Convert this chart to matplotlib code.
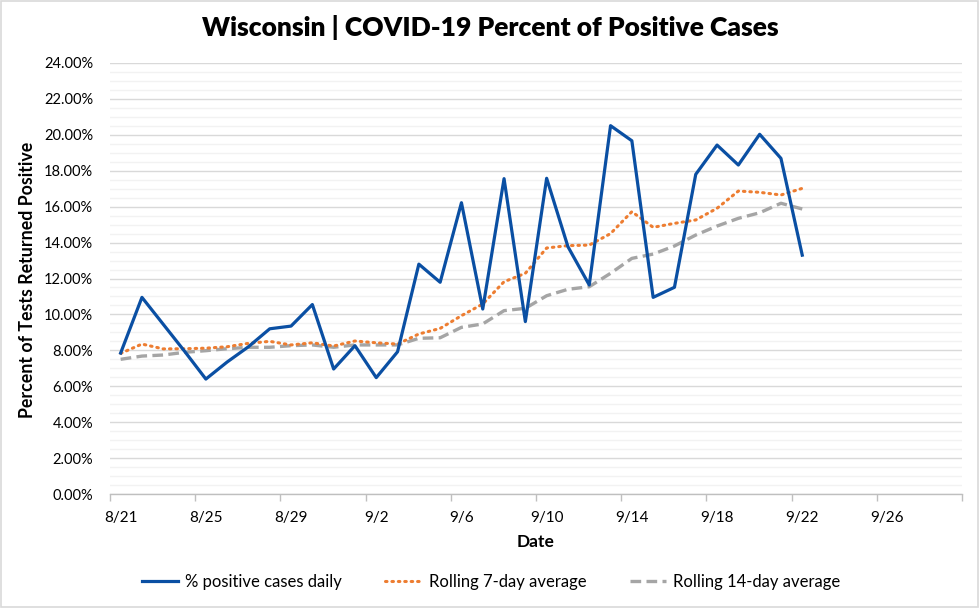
import matplotlib
matplotlib.use("Agg")
import matplotlib.pyplot as plt
import matplotlib.dates as mdates
from matplotlib.ticker import FixedLocator, MultipleLocator, FuncFormatter
from matplotlib.patches import Rectangle
import pandas as pd
import numpy as np

dates = pd.date_range("2020-08-21", "2020-09-22", freq="D")
daily = [7.85, 10.95, 9.45, 7.95, 6.40, 7.35, 8.20, 9.20, 9.35, 10.55, 6.96, 8.26, 6.48,
         7.92, 12.80, 11.79, 16.22, 10.30, 17.56, 9.60, 17.58, 13.77, 11.64, 20.51, 19.67,
         10.95, 11.51, 17.80, 19.43, 18.32, 20.03, 18.69, 13.30]
roll7 = [7.83, 8.35, 8.08, 8.09, 8.12, 8.20, 8.39, 8.50, 8.30, 8.42, 8.24, 8.52, 8.42,
         8.35, 8.91, 9.22, 9.93, 10.58, 11.82, 12.29, 13.70, 13.83, 13.86, 14.50, 15.72,
         14.85, 15.07, 15.26, 15.91, 16.87, 16.80, 16.65, 17.02]
roll14 = [7.50, 7.68, 7.74, 7.89, 7.98, 8.09, 8.17, 8.17, 8.26, 8.30, 8.17, 8.30, 8.30,
          8.30, 8.67, 8.70, 9.28, 9.47, 10.21, 10.34, 11.04, 11.40, 11.54, 12.29, 13.12,
          13.36, 13.81, 14.42, 14.92, 15.35, 15.66, 16.19, 15.87]
tick_labels = ["8/21", "8/25", "8/29", "9/2", "9/6", "9/10", "9/14", "9/18", "9/22", "9/26"]

FONT = ["Lato", "DejaVu Sans"]
plt.rcParams["font.family"] = FONT

fig = plt.figure(figsize=(9.8, 6.08), dpi=100)
ax = fig.add_axes([110/980, 1-494/608, (962-110)/980, (494-63)/608])

x = mdates.date2num(dates)
ax.plot(x, roll14, color="#A5A5A5", lw=2.4, linestyle=(0, (3.2, 1.6)), label="Rolling 14-day average", zorder=3)
ax.plot(x, roll7, color="#ED7D31", lw=2.2, linestyle=(0, (0.5, 1.6)), dash_capstyle="round", label="Rolling 7-day average", zorder=4)
ax.plot(x, daily, color="#0A4FA3", lw=2.3, label="% positive cases daily", zorder=5)

x0 = mdates.date2num(pd.Timestamp("2020-08-21"))
ax.set_xlim(x0 - 0.5, x0 + 39.5)
ax.set_ylim(0, 24)

major = [x0 - 0.5 + 4*k for k in range(10)] + [x0 + 39.5]
ax.xaxis.set_major_locator(FixedLocator(major))
ax.xaxis.set_major_formatter(FuncFormatter(lambda v, p: ""))
ax.set_xticks([x0 + 4*k for k in range(10)], tick_labels, minor=True)
ax.tick_params(axis="x", which="major", length=5, color="#BFBFBF", width=1)
ax.tick_params(axis="x", which="minor", length=0, labelsize=11, pad=12, labelcolor="#000000")

ax.yaxis.set_major_locator(MultipleLocator(2))
ax.yaxis.set_minor_locator(MultipleLocator(0.5))
ax.yaxis.set_major_formatter(FuncFormatter(lambda v, p: f"{v:.2f}%"))
ax.tick_params(axis="y", which="both", length=0, labelsize=10.5, pad=12)

ax.grid(True, axis="y", which="major", color="#D9D9D9", lw=1.0, zorder=0)
ax.grid(True, axis="y", which="minor", color="#F2F2F2", lw=1.0, zorder=0)
ax.set_axisbelow(True)

for s in ["top", "right", "left"]:
    ax.spines[s].set_visible(False)
ax.spines["bottom"].set_color("#BFBFBF")
ax.spines["bottom"].set_linewidth(1)

fig.text(0.5, 1-28/608, "Wisconsin | COVID-19 Percent of Positive Cases", ha="center", va="center",
         fontsize=19, fontweight="heavy")
fig.text(28/980, 1-280/608, "Percent of Tests Returned Positive", ha="center", va="center",
         rotation=90, fontsize=12.8, fontweight="bold")
fig.text(ax.get_position().x0 + ax.get_position().width/2, 1-542/608, "Date", ha="center", va="center",
         fontsize=12.5, fontweight="bold")

h, l = ax.get_legend_handles_labels()
order = [2, 1, 0]
fig.legend([h[i] for i in order], [l[i] for i in order], loc="center", bbox_to_anchor=(491/980, 1-582/608),
           ncol=3, frameon=False, fontsize=12, handlelength=2.2, columnspacing=2.6, handletextpad=0.4)

fig.patches.append(Rectangle((0.001, 0.001), 0.997, 0.997, transform=fig.transFigure, fill=False,
                             edgecolor="#D9D9D9", lw=1.2))

fig.savefig("out.png", dpi=100)
